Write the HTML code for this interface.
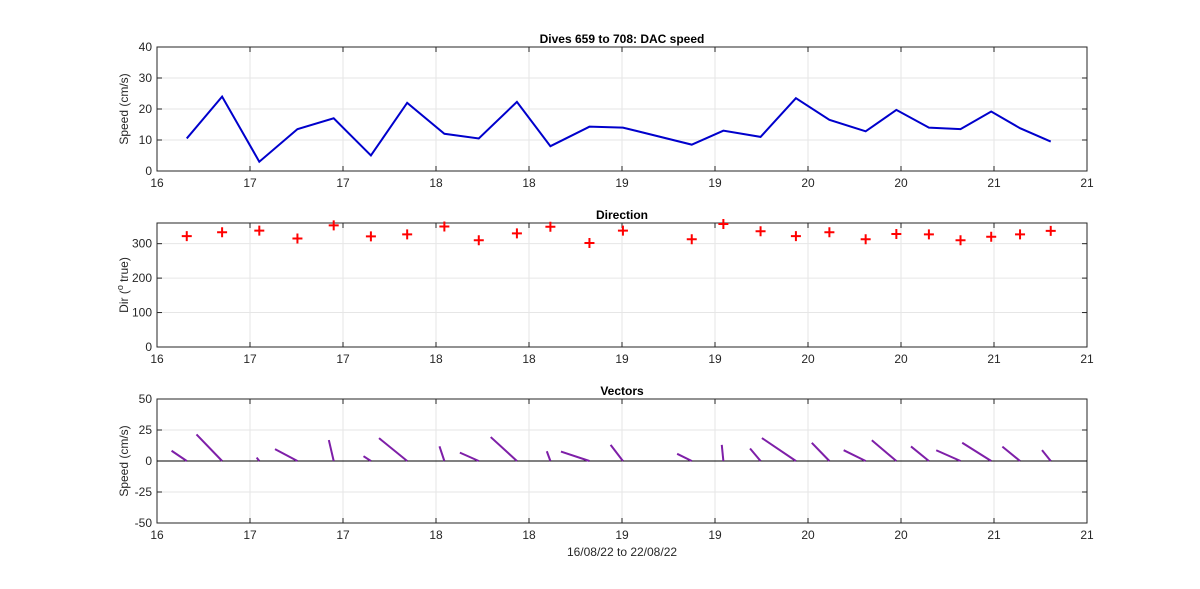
<!DOCTYPE html>
<html><head><meta charset="utf-8"><style>
body{margin:0;background:#fff;}
svg{display:block;font-family:"Liberation Sans",Arial,sans-serif;}
</style></head><body>
<svg id="c" width="1200" height="589"></svg>
<script>
const xTickLabels=["16","17","17","18","18","19","19","20","20","21","21"];
const diveX=[0.32,0.70,1.10,1.51,1.90,2.30,2.69,3.09,3.46,3.87,4.23,4.65,5.01,5.75,6.09,6.49,6.87,7.23,7.62,7.95,8.30,8.64,8.97,9.28,9.61];
const speed=[10.5,24,3,13.5,17,5,22,12,10.5,22.3,8,14.3,14,8.5,13,11,23.5,16.5,12.8,19.7,14,13.5,19.2,13.8,9.5];
const dir=[322,333,338,315,353,321,327,350,310,330,349,302,338,313,357,336,322,333,313,328,327,310,320,327,337];
const spdTicks=[0,10,20,30,40];
const dirTicks=[0,100,200,300];
const vecTicks=[-50,-25,0,25,50];

const NS="http://www.w3.org/2000/svg";
const svg=document.getElementById('c');
function mk(t,a,p){const e=document.createElementNS(NS,t);for(const k in a)e.setAttribute(k,a[k]);(p||svg).appendChild(e);return e;}
const X0=157,X1=1087;
const sx=v=>X0+(X1-X0)*v/10;
function axes(top,bot,ymin,ymax,yticks,title,ylabel,name){
  const g=mk('g',{});
  
  
  const sy=v=>bot-(bot-top)*(v-ymin)/(ymax-ymin);
  for(let i=0;i<=10;i++){const x=sx(i);
    mk('line',{x1:x,x2:x,y1:top,y2:bot,stroke:'#e6e6e6','stroke-width':1},g);
    mk('line',{x1:x,x2:x,y1:bot,y2:bot-5,stroke:'#262626'},g);
    mk('line',{x1:x,x2:x,y1:top,y2:top+5,stroke:'#262626'},g);
    const t=mk('text',{x:x,y:bot+16,'text-anchor':'middle','font-size':12,fill:'#262626'},g);t.textContent=xTickLabels[i];
    
    }
  yticks.forEach(v=>{const y=sy(v);
    mk('line',{x1:X0,x2:X1,y1:y,y2:y,stroke:'#e6e6e6'},g);
    mk('line',{x1:X0,x2:X0+5,y1:y,y2:y,stroke:'#262626'},g);
    mk('line',{x1:X1,x2:X1-5,y1:y,y2:y,stroke:'#262626'},g);
    const t=mk('text',{x:X0-5,y:y+4,'text-anchor':'end','font-size':12,fill:'#262626'},g);t.textContent=v;
    
    });
  mk('rect',{x:X0,y:top,width:X1-X0,height:bot-top,fill:'none',stroke:'#262626'},g);
  const tt=mk('text',{x:(X0+X1)/2,y:top-4,'text-anchor':'middle','font-size':12,'font-weight':'bold',fill:'#000'},g);tt.textContent=title;
  
  
  const yl=mk('text',{transform:`translate(${X0-29},${(top+bot)/2}) rotate(-90)`,'text-anchor':'middle','font-size':12,fill:'#262626'},g);yl.innerHTML=ylabel;
  
  
  return sy;
}
// speed
const sy1=axes(47,171,0,40,spdTicks,'Dives 659 to 708: DAC speed','Speed (cm/s)','speed-axes');
const pl=mk('polyline',{points:diveX.map((d,i)=>sx(d)+','+sy1(speed[i])).join(' '),fill:'none',stroke:'#0000cc','stroke-width':2});


// direction
const sy2=axes(223,347,0,360,dirTicks,'Direction','Dir (<tspan font-size="9" dy="-5">o</tspan><tspan dy="5"> true)</tspan>','direction-axes');
dir.forEach((d,i)=>{const x=sx(diveX[i]),y=sy2(d);
  const p=mk('path',{d:`M${x-5},${y}H${x+5}M${x},${y-5}V${y+5}`,stroke:'#ff0000','stroke-width':2});
  
  });
// vectors
const sy3=axes(399,523,-50,50,vecTicks,'Vectors','Speed (cm/s)','vectors-axes');
mk('line',{x1:X0,x2:X1,y1:sy3(0),y2:sy3(0),stroke:'#000','stroke-width':1});
const xs=2.35;
dir.forEach((d,i)=>{const r=d*Math.PI/180,u=speed[i]*Math.sin(r),v=speed[i]*Math.cos(r);
  const x=sx(diveX[i]);
  const l=mk('line',{x1:x,y1:sy3(0),x2:x+u*xs,y2:sy3(v),stroke:'#7e1fa8','stroke-width':2});
  
  });
const xl=mk('text',{x:(X0+X1)/2,y:556,'text-anchor':'middle','font-size':12,fill:'#262626'});xl.textContent='16/08/22 to 22/08/22';


</script>
</body></html>
